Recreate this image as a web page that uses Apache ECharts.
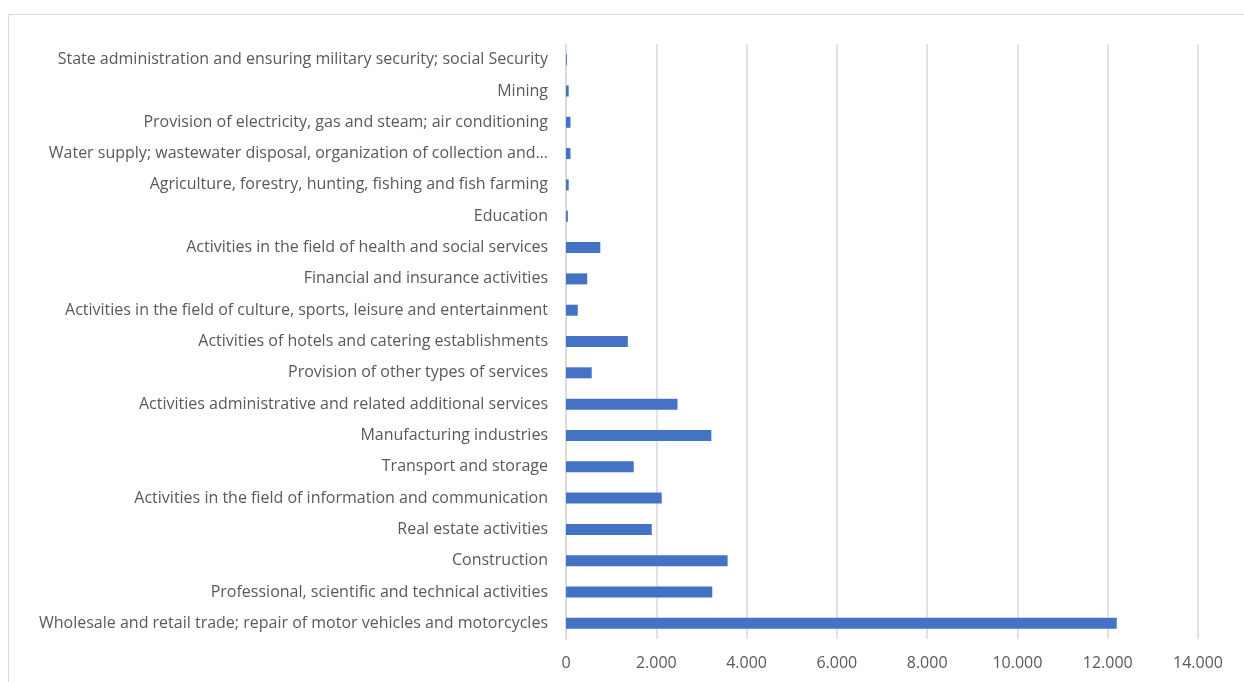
<!DOCTYPE html>
<html>
<head>
<meta charset="utf-8">
<script src="https://cdn.jsdelivr.net/npm/echarts@6/dist/echarts.min.js"></script>
<style>
  html, body { margin: 0; padding: 0; background: #fff; }
  #chart { width: 1244px; height: 682px; }
</style>
</head>
<body>
<div id="chart"></div>
<script>
// Industries, listed from the bottom of the axis to the top
const categories = [
  'Wholesale and retail trade; repair of motor vehicles and motorcycles',
  'Professional, scientific and technical activities',
  'Construction',
  'Real estate activities',
  'Activities in the field of information and communication',
  'Transport and storage',
  'Manufacturing industries',
  'Activities administrative and related additional services',
  'Provision of other types of services',
  'Activities of hotels and catering establishments',
  'Activities in the field of culture, sports, leisure and entertainment',
  'Financial and insurance activities',
  'Activities in the field of health and social services',
  'Education',
  'Agriculture, forestry, hunting, fishing and fish farming',
  'Water supply; wastewater disposal, organization of collection and\u2026',
  'Provision of electricity, gas and steam; air conditioning',
  'Mining',
  'State administration and ensuring military security; social Security'
];

// Number per industry
const values = [
  12200, 3240, 3580, 1900, 2120, 1500, 3220, 2470, 570, 1370,
  260, 470, 760, 40, 60, 100, 100, 60, 20
];

// Value axis
const axisMin = 0;
const axisMax = 14000;
const axisStep = 2000;

function thousands(v) {
  return String(v).replace(/\B(?=(\d{3})+(?!\d))/g, '.');
}

const chart = echarts.init(document.getElementById('chart'));
const fontFamily = '"Open Sans", "Noto Sans", sans-serif';

chart.setOption({
  animation: false,
  backgroundColor: '#ffffff',
  textStyle: { fontFamily: fontFamily },
  graphic: [{
    type: 'rect',
    silent: true,
    shape: { x: 8.5, y: 14.5, width: 1400, height: 800 },
    style: { fill: 'none', stroke: '#d9d9d9', lineWidth: 1 }
  }],
  grid: { left: 566, right: 46, top: 44, bottom: 43, containLabel: false },
  xAxis: {
    type: 'value',
    min: axisMin,
    max: axisMax,
    interval: axisStep,
    axisLine: { show: false },
    axisTick: { show: false },
    splitLine: { show: true, lineStyle: { color: '#d9d9d9', width: 1.5 } },
    axisLabel: {
      color: '#595959',
      fontSize: 16,
      fontFamily: fontFamily,
      margin: 16,
      formatter: thousands
    }
  },
  yAxis: {
    type: 'category',
    data: categories,
    axisLine: { show: true, lineStyle: { color: '#d9d9d9', width: 1.5 } },
    axisTick: { show: false },
    axisLabel: {
      color: '#595959',
      fontSize: 16,
      fontFamily: fontFamily,
      margin: 18,
      interval: 0
    }
  },
  series: [{
    type: 'bar',
    data: values,
    barWidth: 11,
    itemStyle: { color: '#4472c4' }
  }]
});
</script>
</body>
</html>
